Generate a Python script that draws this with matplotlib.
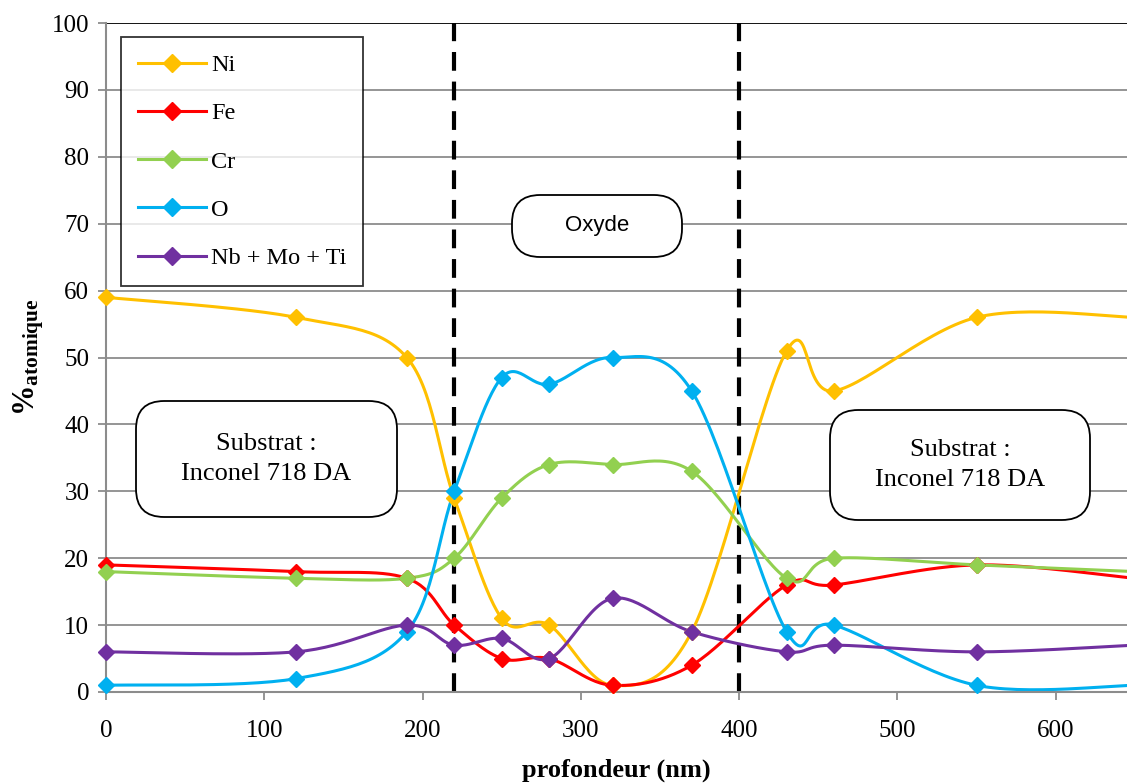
import numpy as np
import matplotlib
matplotlib.use("Agg")
import matplotlib.pyplot as plt
from matplotlib.patches import FancyBboxPatch

depth = [0, 120, 190, 220, 250, 280, 320, 370, 430, 460, 550, 650]
ni = [59, 56, 50, 29, 11, 10, 1, 9, 51, 45, 56, 56]
fe = [19, 18, 17, 10, 5, 5, 1, 4, 16, 16, 19, 17]
cr = [18, 17, 17, 20, 29, 34, 34, 33, 17, 20, 19, 18]
ox = [1, 2, 9, 30, 47, 46, 50, 45, 9, 10, 1, 1]
nb = [6, 6, 10, 7, 8, 5, 14, 9, 6, 7, 6, 7]
series_names = ["Ni", "Fe", "Cr", "O", "Nb + Mo + Ti"]
colors = ["#FFC000", "#FF0000", "#92D050", "#00B0F0", "#7030A0"]
boundaries = [220, 400]
xticks = [0, 100, 200, 300, 400, 500, 600]
yticks = list(range(0, 101, 10))

plt.rcParams['font.family'] = ['Liberation Serif', 'DejaVu Serif']
plt.rcParams['mathtext.fontset'] = 'custom'
plt.rcParams['mathtext.bf'] = 'Liberation Serif:bold'
plt.rcParams['mathtext.rm'] = 'Liberation Serif'

XMAX = 645
fig = plt.figure(figsize=(11.27, 7.83), dpi=100)
ax = fig.add_axes([106/1127, 91/783, 1 - 106/1127, (692-23)/783])
ax.set_xlim(0, XMAX)
ax.set_ylim(0, 100)

sx = (1127-106)/float(XMAX)
sy = (692-23)/100.0

def smooth(xs, ys, n=30):
    P = np.column_stack([np.array(xs)*sx, np.array(ys)*sy])
    out = []
    for i in range(len(P)-1):
        p0 = P[i-1] if i > 0 else P[i]
        p1 = P[i]
        p2 = P[i+1]
        p3 = P[i+2] if i+2 < len(P) else P[i+1]
        c1 = p1 + (p2 - p0)/6.0
        c2 = p2 - (p3 - p1)/6.0
        t = np.linspace(0, 1, n)[:, None]
        seg = (1-t)**3*p1 + 3*(1-t)**2*t*c1 + 3*(1-t)*t**2*c2 + t**3*p2
        out.append(seg if i == 0 else seg[1:])
    out = np.vstack(out)
    return out[:, 0]/sx, out[:, 1]/sy

for y in yticks[:-1]:
    ax.axhline(y, color='#8c8c8c', lw=1.3, zorder=0)
ax.axhline(100, color='black', lw=1.3, zorder=0)

for b in boundaries:
    ax.axvline(b, color='black', lw=3, ls=(0, (4.5, 2.6)), zorder=1)

handles = []
for name, ys, c in zip(series_names, [ni, fe, cr, ox, nb], colors):
    xs_s, ys_s = smooth(depth, ys)
    ax.plot(xs_s, ys_s, color=c, lw=2.2, zorder=2, clip_on=True)
    mx = [x for x in depth if x <= XMAX]
    my = [v for x, v in zip(depth, ys) if x <= XMAX]
    ax.plot(mx, my, ls='none', marker='D', ms=8.5, color=c, zorder=3, clip_on=False)
    h, = ax.plot([], [], color=c, lw=2.2, marker='D', ms=9, label=name)
    handles.append(h)

for s in ['top', 'right']:
    ax.spines[s].set_visible(False)
for s in ['left', 'bottom']:
    ax.spines[s].set_color('#8c8c8c')
    ax.spines[s].set_linewidth(1.5)
ax.set_xticks(xticks)
ax.set_yticks(yticks)
ax.tick_params(axis='both', colors='#8c8c8c', length=6, width=1.3, labelsize=18,
               labelcolor='black', direction='out')
ax.tick_params(axis='x', pad=14)
ax.tick_params(axis='y', pad=6)

ax.set_xlabel('profondeur (nm)', fontsize=19, fontweight='bold', labelpad=12)
ax.set_ylabel(r'$\mathbf{\%_{atomique}}$', fontsize=22, labelpad=4)

leg = ax.legend(handles=handles, loc='upper left', bbox_to_anchor=(15/1021, 1-14/669),
                fontsize=17.5, frameon=True, fancybox=False, edgecolor='black',
                handlelength=2.8, labelspacing=1.08, borderpad=0.7, handletextpad=0.2,
                borderaxespad=0)
leg.get_frame().set_linewidth(1.3)

def box(x0, y0, x1, y1, txt, family, size):
    fx0, fx1 = x0/1127, x1/1127
    fy0, fy1 = 1 - y1/783, 1 - y0/783
    p = FancyBboxPatch((fx0, fy0), fx1-fx0, fy1-fy0, boxstyle='round,pad=0,rounding_size=0.025',
                       transform=fig.transFigure, facecolor='white', edgecolor='black', lw=1.3,
                       mutation_aspect=1127/783, zorder=5)
    fig.add_artist(p)
    fig.text((fx0+fx1)/2, (fy0+fy1)/2, txt, ha='center', va='center', fontsize=size,
             family=family, linespacing=1.45, zorder=6)

box(136, 401, 397, 517, 'Substrat :\nInconel 718 DA', ['Liberation Serif'], 19)
box(830, 410, 1090, 520, 'Substrat :\nInconel 718 DA', ['Liberation Serif'], 19)
box(512, 195, 682, 257, 'Oxyde', ['Liberation Sans'], 16)

fig.savefig('out.png', dpi=100)
